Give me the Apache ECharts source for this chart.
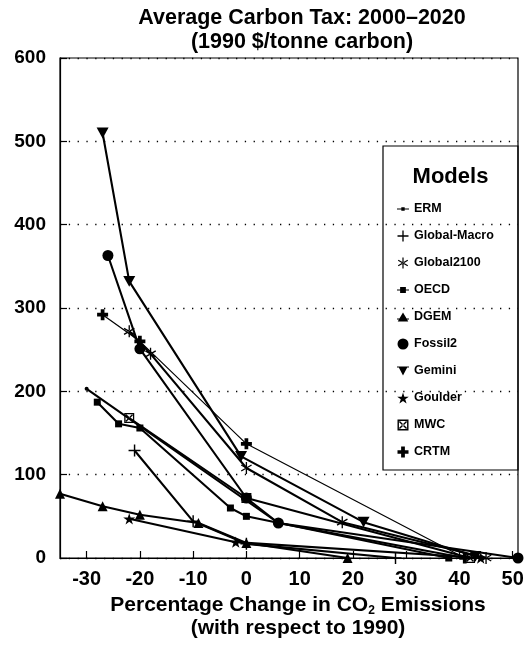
<!DOCTYPE html>
<html>
<head>
<meta charset="utf-8">
<script src="https://cdn.jsdelivr.net/npm/echarts@6/dist/echarts.min.js"></script>
<style>html,body{margin:0;padding:0;background:#fff;}#c{width:531px;height:646px;}</style>
</head>
<body>
<div id="c"></div>
<script>
// ---- data (x = % change in CO2 emissions vs 1990, y = average carbon tax 1990 $/tonne C)
const modelNames = ['ERM','Global-Macro','Global2100','OECD','DGEM','Fossil2','Gemini','Goulder','MWC','CRTM'];
const ermData = [[-30,203],[6,42],[41,0]];
const globalMacroData = [[-21,129],[-10,44],[0,17],[28,0]];
const global2100Data = [[-22,272],[-18,245],[0,108],[18,43],[45,0]];
const oecdData = [[-28,187],[-24,161],[-20,156],[-3,60],[0,50],[38,0]];
const dgemData = [[-35,77],[-27,62],[-20,52],[-9,42],[0,18],[19,0]];
const fossil2Data = [[-26,363],[-20,251],[0,72],[6,42],[51,0]];
const geminiData = [[-27,510],[-22,332],[-1,122],[22,43],[43,2]];
const goulderData = [[-22,47],[-2,19],[44,0]];
const mwcData = [[-22,168],[0,72],[42,0]];
const crtmData = [[-27,292],[-20,260],[0,137],[41,0]];
const xTickValues = [-30,-20,-10,0,10,20,30,40,50];
const yTickInterval = 100;

const FONT = '"Liberation Sans", Arial, Helvetica, sans-serif';
const SYM = {
  plus: 'path://M4.4,0H5.6V4.4H10V5.6H5.6V10H4.4V5.6H0V4.4H4.4Z',
  asterisk: 'path://M4.45,0H5.55V10H4.45Z M9.605,7.024L9.055,7.976L0.395,2.976L0.945,2.024Z M0.395,7.024L0.945,7.976L9.605,2.976L9.055,2.024Z',
  star: 'path://M5,0L6.18,3.62L10,3.62L6.91,5.86L8.09,9.5L5,7.25L1.91,9.5L3.09,5.86L0,3.62L3.82,3.62Z',
  cross: 'path://M3.3,0H6.7V3.3H10V6.7H6.7V10H3.3V6.7H0V3.3H3.3Z',
  mwc: 'path://M0,0H10V10H0Z M1.3,1.3V8.7H8.7V1.3Z M1.3,2.2L2.2,1.3L8.7,7.8L7.8,8.7Z M8.7,2.2L7.8,1.3L1.3,7.8L2.2,8.7Z',
  down: 'path://M0,0L10,0L5,9Z'
};
const LEG = {
  'ERM': 'path://M0,4.6H3.6V3.6H6.4V4.6H10V5.4H6.4V6.4H3.6V5.4H0Z',
  'Global-Macro': SYM.plus,
  'Global2100': SYM.asterisk,
  'OECD': 'path://M0,4.5H2.6V2.4H7.4V4.5H10V5.5H7.4V7.6H2.6V5.5H0Z',
  'DGEM': 'path://M0,6.2H2L5,1L8,6.2H10V7H8.4L9.4,8.7H0.6L1.6,7H0Z',
  'Fossil2': 'circle',
  'Gemini': 'path://M0,1.5H10V2.3H8.5L5,9L1.5,2.3H0Z',
  'Goulder': SYM.star,
  'MWC': SYM.mwc,
  'CRTM': SYM.cross
};

function mk(name, data, symbol, size, width) {
  return {
    name: name, type: 'line', data: data,
    symbol: symbol, symbolSize: size, symbolKeepAspect: true,
    showAllSymbol: true, clip: false, silent: true,
    lineStyle: {color: '#000', width: width || 2.1},
    itemStyle: {color: '#000', borderWidth: 0},
    emphasis: {disabled: true}
  };
}

const chart = echarts.init(document.getElementById('c'), null, {renderer: 'canvas'});
chart.setOption({
  animation: false,
  backgroundColor: '#fff',
  title: {
    text: 'Average Carbon Tax: 2000–2020\n(1990 $/tonne carbon)',
    left: 297, top: 1, textAlign: 'center',
    textStyle: {fontFamily: FONT, fontSize: 21.5, fontWeight: 'bold', color: '#000', lineHeight: 24}
  },
  grid: {left: 60, right: 13, top: 58, bottom: 88, show: true, borderColor: '#000', borderWidth: 1.2},
  xAxis: {
    type: 'value', min: -35, max: 51,
    axisLine: {show: true, onZero: false, lineStyle: {color: '#000', width: 1.2}},
    axisTick: {show: true, inside: true, length: 7, customValues: xTickValues, lineStyle: {color: '#000', width: 1.2}},
    axisLabel: {customValues: xTickValues, color: '#000', fontFamily: FONT, fontSize: 20, fontWeight: 'bold', margin: 11},
    splitLine: {show: false},
    name: 'Percentage Change in CO{sub|2} Emissions\n(with respect to 1990)',
    nameLocation: 'middle', nameGap: 36,
    nameTextStyle: {
      fontFamily: FONT, fontSize: 21, fontWeight: 'bold', color: '#000', lineHeight: 23, padding: [0, 0, 0, 18],
      rich: {sub: {fontFamily: FONT, fontSize: 12, fontWeight: 'bold', color: '#000', verticalAlign: 'bottom', lineHeight: 23}}
    }
  },
  yAxis: {
    type: 'value', min: 0, max: 600, interval: yTickInterval,
    axisLine: {show: true, onZero: false, lineStyle: {color: '#000', width: 1.2}},
    axisTick: {show: true, inside: true, length: 7, lineStyle: {color: '#000', width: 1.2}},
    axisLabel: {color: '#000', fontFamily: FONT, fontSize: 19, fontWeight: 'bold', margin: 14},
    splitLine: {show: true, lineStyle: {color: '#000', width: 1.3, type: [1.3, 7.5]}}
  },
  legend: {
    orient: 'vertical', left: 392, top: 197, itemWidth: 12, itemHeight: 11, itemGap: 13,
    selectedMode: false,
    data: modelNames.map(function (n) { return {name: n, icon: LEG[n], itemStyle: {color: '#000'}}; }),
    textStyle: {fontFamily: FONT, fontSize: 12.5, fontWeight: 'bold', color: '#000', lineHeight: 14}
  },
  graphic: [
    {type: 'rect', shape: {x: 383, y: 146, width: 135, height: 324}, style: {fill: 'none', stroke: '#000', lineWidth: 1.2}, silent: true},
    {type: 'text', x: 450.5, y: 177, style: {text: 'Models', fontFamily: FONT, fontSize: 22, fontWeight: 'bold', fill: '#000', align: 'center', verticalAlign: 'middle'}, silent: true}
  ],
  series: [
    mk('ERM', ermData, 'circle', 4),
    mk('Global-Macro', globalMacroData, SYM.plus, 12),
    mk('Global2100', global2100Data, SYM.asterisk, 12),
    mk('OECD', oecdData, 'rect', 7),
    mk('DGEM', dgemData, 'triangle', 10),
    mk('Fossil2', fossil2Data, 'circle', 11),
    mk('Gemini', geminiData, SYM.down, 12),
    mk('Goulder', goulderData, SYM.star, 12),
    mk('MWC', mwcData, SYM.mwc, 10),
    mk('CRTM', crtmData, SYM.cross, 11, 1.2)
  ]
});
</script>
</body>
</html>
